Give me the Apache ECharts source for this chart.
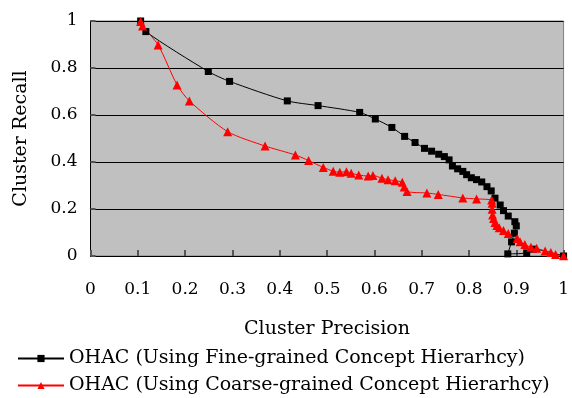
<!DOCTYPE html>
<html lang="en">
<head>
    <meta charset="UTF-8">
    <script type="text/javascript" src="https://cdn.jsdelivr.net/npm/echarts@6/dist/echarts.min.js"></script>
    <title>Cluster Precision / Recall</title>
    <style>
        html, body { margin: 0; padding: 0; background: #fff; }
    </style>
</head>
<body>
<div id="main" style="width: 572px;height:398px;"></div>
<script type="text/javascript">
    // values
    var fineName = 'OHAC (Using Fine-grained Concept Hierarhcy)';
    var coarseName = 'OHAC (Using Coarse-grained Concept Hierarhcy)';

    var finePrecision = [0.106, 0.117, 0.249, 0.294, 0.416, 0.481, 0.569, 0.602, 0.637, 0.664,
        0.686, 0.706, 0.721, 0.736, 0.748, 0.758, 0.765, 0.776, 0.787, 0.795,
        0.805, 0.816, 0.827, 0.838, 0.847, 0.855, 0.866, 0.873, 0.883, 0.897,
        0.900, 0.896, 0.890, 0.882, 0.922, 0.936, 1.0];
    var fineRecall = [1.0, 0.955, 0.785, 0.743, 0.660, 0.640, 0.611, 0.583, 0.547, 0.509,
        0.483, 0.458, 0.446, 0.433, 0.423, 0.409, 0.383, 0.371, 0.360, 0.346,
        0.333, 0.325, 0.315, 0.295, 0.277, 0.246, 0.217, 0.193, 0.170, 0.146,
        0.128, 0.097, 0.060, 0.009, 0.013, 0.029, 0.0];

    var coarsePrecision = [0.106, 0.110, 0.143, 0.183, 0.209, 0.290, 0.369, 0.433, 0.461, 0.492,
        0.513, 0.527, 0.541, 0.551, 0.567, 0.587, 0.597, 0.616, 0.629, 0.644,
        0.659, 0.663, 0.669, 0.711, 0.735, 0.787, 0.816, 0.848, 0.849, 0.849,
        0.850, 0.852, 0.855, 0.859, 0.864, 0.873, 0.883, 0.902, 0.908, 0.918,
        0.931, 0.943, 0.961, 0.973, 0.983, 1.0];
    var coarseRecall = [0.998, 0.979, 0.898, 0.728, 0.660, 0.529, 0.468, 0.430, 0.406, 0.377,
        0.361, 0.356, 0.359, 0.352, 0.345, 0.340, 0.343, 0.331, 0.325, 0.320,
        0.314, 0.294, 0.274, 0.268, 0.262, 0.247, 0.243, 0.238, 0.224, 0.199,
        0.174, 0.160, 0.143, 0.130, 0.120, 0.109, 0.096, 0.075, 0.061, 0.049,
        0.037, 0.033, 0.021, 0.015, 0.006, 0.001];

    var xTicks = [0, 0.1, 0.2, 0.3, 0.4, 0.5, 0.6, 0.7, 0.8, 0.9, 1];
    var yTicks = [0, 0.2, 0.4, 0.6, 0.8, 1];

    function pairs(xs, ys) {
        var out = [];
        for (var i = 0; i < xs.length; i++) {
            out.push([xs[i], ys[i]]);
        }
        return out;
    }

    var font = '"DejaVu Serif", "Liberation Serif", serif';
    var myChart = echarts.init(document.getElementById('main'), null, {renderer: 'canvas'});

    // one legend box per row, so the two rows stay stacked
    function legendRow(name, top) {
        return {
            left: 12,
            top: top,
            itemWidth: 46,
            itemHeight: 9,
            itemGap: 0,
            textStyle: {fontFamily: font, fontSize: 19, color: '#000'},
            data: [name]
        };
    }

    var option = {
        animation: false,
        textStyle: {fontFamily: font, color: '#000'},
        grid: {
            left: 90.5,
            right: 6,
            top: 21,
            bottom: 142,
            show: true,
            backgroundColor: '#c0c0c0',
            borderColor: '#808080',
            borderWidth: 1
        },
        legend: [legendRow(fineName, 344), legendRow(coarseName, 371)],
        xAxis: {
            type: 'value',
            min: 0,
            max: 1,
            interval: 0.1,
            name: 'Cluster Precision',
            nameLocation: 'middle',
            nameGap: 64,
            nameTextStyle: {fontFamily: font, fontSize: 19, color: '#000'},
            axisLine: {lineStyle: {color: '#000', width: 1}},
            axisTick: {inside: true, length: 6, lineStyle: {color: '#555', width: 2}},
            axisLabel: {
                margin: 25,
                fontFamily: font,
                fontSize: 17,
                color: '#000',
                formatter: function (v) {
                    var idx = Math.round(v * 10);
                    return String(xTicks[idx]);
                }
            },
            splitLine: {show: false}
        },
        yAxis: {
            type: 'value',
            min: 0,
            max: 1,
            interval: 0.2,
            name: 'Cluster Recall',
            nameLocation: 'middle',
            nameGap: 60,
            nameTextStyle: {fontFamily: font, fontSize: 19, color: '#000'},
            axisLine: {show: true, lineStyle: {color: '#000', width: 1}},
            axisTick: {show: true, inside: true, length: 5, lineStyle: {color: '#555', width: 2}},
            axisLabel: {
                margin: 13,
                fontFamily: font,
                fontSize: 17,
                color: '#000',
                formatter: function (v) {
                    var idx = Math.round(v * 5);
                    return String(yTicks[idx]);
                }
            },
            splitLine: {show: true, lineStyle: {color: '#000', width: 1}}
        },
        series: [
            {
                name: fineName,
                type: 'line',
                smooth: 0.25,
                symbol: 'rect',
                symbolSize: 7,
                itemStyle: {color: '#000'},
                lineStyle: {color: '#000', width: 1},
                data: pairs(finePrecision, fineRecall)
            },
            {
                name: coarseName,
                type: 'line',
                smooth: 0.25,
                symbol: 'triangle',
                symbolSize: 9,
                itemStyle: {color: '#ff0000'},
                lineStyle: {color: '#ff0000', width: 1},
                data: pairs(coarsePrecision, coarseRecall)
            }
        ]
    };
    myChart.setOption(option);
</script>
</body>
</html>
